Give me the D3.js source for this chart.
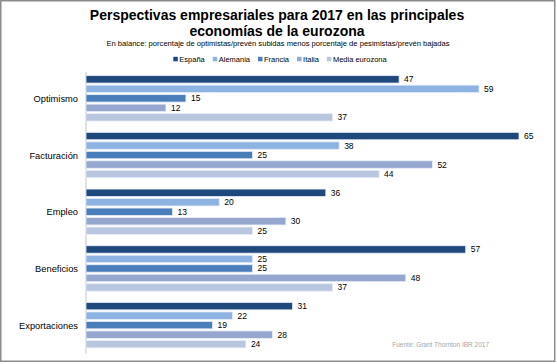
<!DOCTYPE html>
<html><head><meta charset="utf-8">
<script src="https://cdn.jsdelivr.net/npm/d3@7"></script>
<style>
html,body{margin:0;padding:0;background:#fff;}
svg{display:block;font-family:"Liberation Sans",Arial,sans-serif;}
</style></head>
<body>
<svg id="chart" width="557" height="364"></svg>
<script>
const categories = ["Optimismo","Facturación","Empleo","Beneficios","Exportaciones"];
const seriesNames = ["España","Alemania","Francia","Italia","Media eurozona"];
const espana = [47,65,36,57,31];
const alemania = [59,38,20,25,22];
const francia = [15,25,13,25,19];
const italia = [12,52,30,48,28];
const media = [37,44,25,37,24];
const seriesValues = [espana, alemania, francia, italia, media];
const colors = ["#1F497D","#8DB3E2","#4A7EBB","#95A7CF","#B9C6E0"];
const titleLines = ["Perspectivas empresariales para 2017 en las principales","economías de la eurozona"];
const subtitle = "En balance: porcentaje de optimistas/prevén subidas menos porcentaje de pesimistas/prevén bajadas";
const source = "Fuente: Grant Thornton IBR 2017";

const svg = d3.select("#chart");

// frame
svg.append("rect").attr("x",0.75).attr("y",0.75).attr("width",554).attr("height",360.5)
  .attr("fill","#fff").attr("stroke","#8c8c8c").attr("stroke-width",1.5);

// title
svg.append("g").selectAll("text").data(titleLines).join("text")
  .attr("x",277).attr("y",(d,i)=>20+i*16)
  .attr("text-anchor","middle").attr("font-size",14).attr("font-weight","bold").attr("fill","#000")
  .text(d=>d);
svg.append("text").attr("x",278).attr("y",46).attr("text-anchor","middle")
  .attr("font-size",7.6).attr("fill","#000").text(subtitle);

// scales
const x = d3.scaleLinear().domain([0,65]).range([86,519]);
const y0 = d3.scaleBand().domain(categories).range([70,353.5]).padding(0);
const y1 = d3.scaleBand().domain(seriesNames).range([0,y0.step()]).paddingInner(0.22).paddingOuter(0.595);

// legend (laid out by measured widths, centered)
const lg = svg.append("g");
const items = seriesNames.map((s,i)=>{
  const g = lg.append("g");
  g.append("rect").attr("x",0).attr("y",-5.2).attr("width",4.5).attr("height",4.5).attr("fill",colors[i]);
  const t = g.append("text").attr("x",6).attr("y",0).attr("font-size",7.5).attr("fill","#000").text(s);
  return {g, w: 6 + t.node().getComputedTextLength()};
});
const gap = 8;
const total = d3.sum(items,d=>d.w) + gap*(items.length-1);
let cx = 280 - total/2;
items.forEach(it=>{ it.g.attr("transform",`translate(${cx},62)`); cx += it.w + gap; });

// axis line
svg.append("line").attr("x1",x(0)).attr("x2",x(0)).attr("y1",y0.range()[0]+2).attr("y2",y0.range()[1])
  .attr("stroke","#d9d9d9").attr("stroke-width",1.5);

// bars
const groups = svg.append("g").selectAll("g").data(categories).join("g")
  .attr("transform",c=>`translate(0,${y0(c)})`);
groups.each(function(c,ci){
  const g = d3.select(this);
  seriesNames.forEach((s,si)=>{
    const v = seriesValues[si][ci];
    g.append("rect").attr("x",x(0)).attr("y",y1(s)).attr("width",x(v)-x(0)).attr("height",y1.bandwidth())
      .attr("fill",colors[si]).attr("stroke","#e6ecf5").attr("stroke-width",0.8);
    g.append("text").attr("x",x(v)+5).attr("y",y1(s)+y1.bandwidth()/2+3)
      .attr("font-size",8.5).attr("fill","#000").text(v);
  });
  g.append("text").attr("x",78).attr("y",y1(seriesNames[2])+y1.bandwidth()/2+3.5)
    .attr("text-anchor","end").attr("font-size",9.3).attr("fill","#000").text(c);
});

// source
svg.append("text").attr("x",489).attr("y",347).attr("text-anchor","end")
  .attr("font-size",6.5).attr("fill","#a6a6a6").text(source);
</script>
</body></html>
